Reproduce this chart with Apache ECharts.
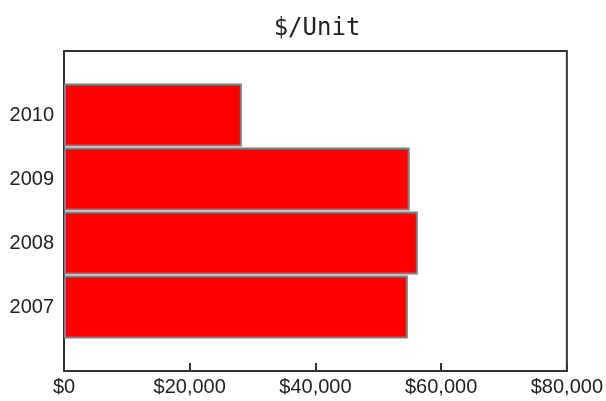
<!DOCTYPE html>
<html>
<head>
<meta charset="utf-8">
<script src="https://cdn.jsdelivr.net/npm/echarts@6/dist/echarts.min.js"></script>
<style>html,body{margin:0;padding:0;background:#fff}#c{width:606px;height:401px}</style>
</head>
<body>
<div id="c"></div>
<script>
const titleText = '$/Unit';
const years = ['2007', '2008', '2009', '2010'];
const unitPrice = [54700, 56300, 55000, 28300];
const xTicks = [0, 20000, 40000, 60000, 80000];

// pad one empty slot at each end so bars sit half a band from the frame
const cats = [''].concat(years, ['']);
const vals = ['-'].concat(unitPrice, ['-']);

const chart = echarts.init(document.getElementById('c'));
chart.setOption({
  animation: false,
  backgroundColor: '#fff',
  title: {
    text: titleText,
    left: 312, top: 12, textAlign: 'center',
    textStyle: { fontFamily: 'DejaVu Sans Mono', fontSize: 24, fontWeight: 'normal', color: '#222' }
  },
  grid: {
    left: 64, right: 38, top: 51, bottom: 30,
    show: true, borderColor: '#333', borderWidth: 2, backgroundColor: '#fff'
  },
  xAxis: {
    type: 'value',
    min: xTicks[0], max: xTicks[xTicks.length - 1], interval: xTicks[1] - xTicks[0],
    splitLine: { show: false },
    axisLine: { show: true, lineStyle: { color: '#333', width: 2 } },
    axisTick: { show: true, inside: true, length: 8, lineStyle: { color: '#333', width: 2 } },
    axisLabel: {
      margin: 6,
      fontFamily: 'Liberation Sans', fontSize: 20, color: '#222',
      formatter: v => '$' + v.toLocaleString('en-US')
    }
  },
  yAxis: {
    type: 'category',
    data: cats,
    boundaryGap: false,
    axisLine: { show: true, lineStyle: { color: '#333', width: 2 } },
    axisTick: { show: false },
    splitLine: { show: false },
    axisLabel: { margin: 10, fontFamily: 'Liberation Sans', fontSize: 20, color: '#222' }
  },
  series: [{
    type: 'bar',
    data: vals,
    barWidth: 63,
    itemStyle: { color: '#ff0000', borderColor: '#808080', borderWidth: 2 }
  }]
});
</script>
</body>
</html>
